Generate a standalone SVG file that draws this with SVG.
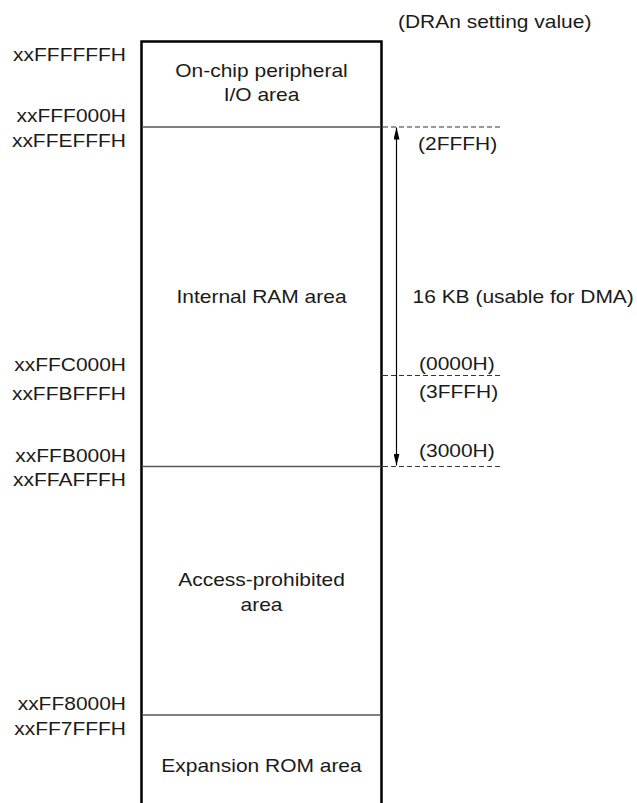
<svg xmlns="http://www.w3.org/2000/svg" width="637" height="803" viewBox="0 0 637 803">
<style>
text{font-family:"Liberation Sans",Arial,Helvetica,sans-serif;font-size:17.7px;fill:#1a1a1a}
.r{text-anchor:end}
.m{text-anchor:middle}
.div{stroke:#555;stroke-width:1.3;fill:none}
.dash{stroke:#333;stroke-width:1.2;stroke-dasharray:5 3;fill:none}
</style>
<defs>
<marker id="ah" viewBox="0 0 12 6" refX="12" refY="3" markerWidth="12" markerHeight="6" markerUnits="userSpaceOnUse" orient="auto-start-reverse">
<path d="M0,0 L12,3 L0,6 Z" fill="#000"/>
</marker>
</defs>
<rect width="637" height="803" fill="#fff"/>
<g id="map-frame">
<path d="M141.5,806 V41.5 H381.5 V806" fill="none" stroke="#000" stroke-width="2.5"/>
</g>
<g id="onchip-io">
<text class="m" transform="translate(261.5 77) scale(1.185 1)">On-chip peripheral</text>
<text class="m" transform="translate(261.5 101) scale(1.185 1)">I/O area</text>
</g>
<g id="internal-ram">
<text class="m" transform="translate(261.5 303) scale(1.185 1)">Internal RAM area</text>
</g>
<g id="access-prohibited">
<text class="m" transform="translate(261.5 586) scale(1.185 1)">Access-prohibited</text>
<text class="m" transform="translate(261.5 611) scale(1.185 1)">area</text>
</g>
<g id="expansion-rom">
<text class="m" transform="translate(261.5 772) scale(1.185 1)">Expansion ROM area</text>
</g>
<g id="dividers">
<line class="div" x1="142" y1="127" x2="381" y2="127"/>
<line class="div" x1="142" y1="466.5" x2="381" y2="466.5"/>
<line class="div" x1="142" y1="715" x2="381" y2="715"/>
</g>
<g id="address-labels">
<text class="r" transform="translate(126 61) scale(1.185 1)">xxFFFFFFH</text>
<text class="r" transform="translate(126 122) scale(1.185 1)">xxFFF000H</text>
<text class="r" transform="translate(126 147) scale(1.185 1)">xxFFEFFFH</text>
<text class="r" transform="translate(126 371) scale(1.185 1)">xxFFC000H</text>
<text class="r" transform="translate(126 400) scale(1.185 1)">xxFFBFFFH</text>
<text class="r" transform="translate(126 461.5) scale(1.185 1)">xxFFB000H</text>
<text class="r" transform="translate(126 486) scale(1.185 1)">xxFFAFFFH</text>
<text class="r" transform="translate(126 710) scale(1.185 1)">xxFF8000H</text>
<text class="r" transform="translate(126 735) scale(1.185 1)">xxFF7FFFH</text>
</g>
<g id="connectors">
<line class="dash" x1="383" y1="127" x2="502" y2="127"/>
<line class="dash" x1="383" y1="375.5" x2="502" y2="375.5"/>
<line class="dash" x1="383" y1="466.5" x2="502" y2="466.5"/>
<line x1="396.5" y1="127.5" x2="396.5" y2="465.5" stroke="#000" stroke-width="1.2" marker-start="url(#ah)" marker-end="url(#ah)"/>
</g>
<g id="dran-labels">
<text transform="translate(398 28) scale(1.185 1)">(DRAn setting value)</text>
<text transform="translate(418 150) scale(1.185 1)">(2FFFH)</text>
<text transform="translate(412.5 303) scale(1.185 1)">16 KB (usable for DMA)</text>
<text transform="translate(419 370) scale(1.185 1)">(0000H)</text>
<text transform="translate(419 398) scale(1.185 1)">(3FFFH)</text>
<text transform="translate(419 457) scale(1.185 1)">(3000H)</text>
</g>
</svg>
